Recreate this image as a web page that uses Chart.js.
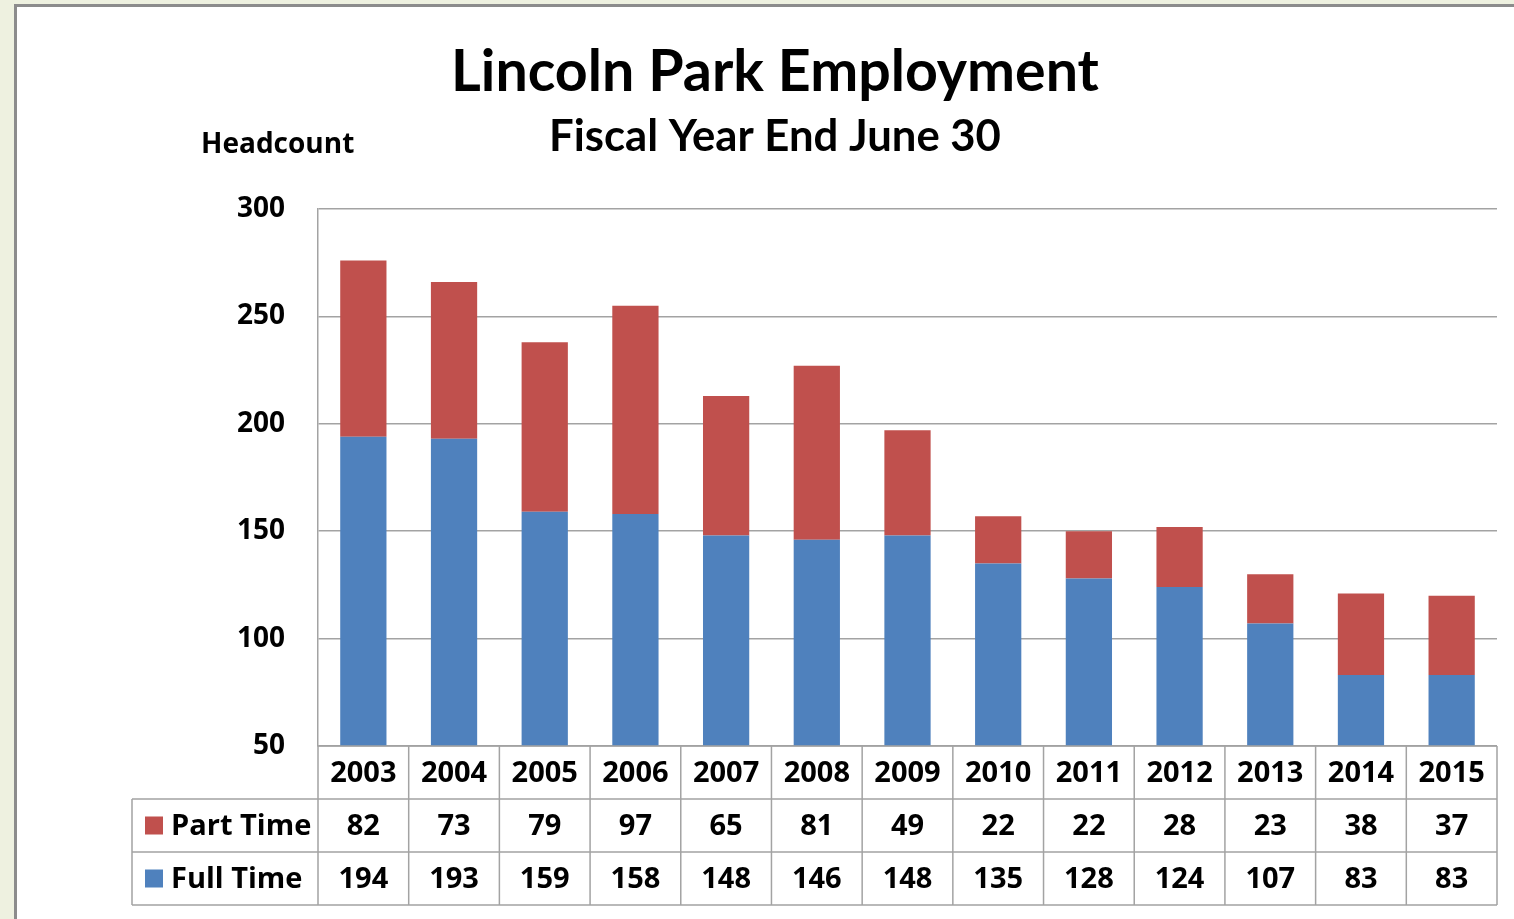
<!DOCTYPE html>
<html><head><meta charset="utf-8">
<script src="https://cdn.jsdelivr.net/npm/chart.js@4.4.1/dist/chart.umd.min.js"></script>
<style>
html,body{margin:0;padding:0;background:#eef1e0;width:1514px;height:919px;overflow:hidden}
#frame{position:absolute;left:14px;top:4px;width:1530px;height:940px;background:#fff;border-left:3px solid #8c8c8c;border-top:3px solid #8c8c8c}
canvas{position:absolute;left:0;top:0}
</style></head><body>
<div id="frame"></div>
<canvas id="c" width="1514" height="919"></canvas>
<script>
const years = ['2003','2004','2005','2006','2007','2008','2009','2010','2011','2012','2013','2014','2015'];
const partTime = [82,73,79,97,65,81,49,22,22,28,23,38,37];
const fullTime = [194,193,159,158,148,146,148,135,128,124,107,83,83];
const seriesNames = ['Part Time','Full Time'];
const yMin = 50, yMax = 300, yStep = 50;
const titleText = 'Lincoln Park Employment';
const subtitleText = 'Fiscal Year End June 30';
const yAxisTitle = 'Headcount';

const RED = '#c0504d', BLUE = '#4f81bd', LINE = '#a3a3a3';
const TF = '"Open Sans", "DejaVu Sans", sans-serif';
const HF = 'Lato, "Open Sans", sans-serif';

function fitSize(ctx, text, family, target){
  ctx.font = '700 100px ' + family;
  return 100 * target / ctx.measureText(text).width;
}

const overlay = {
  id: 'overlay',
  afterDraw(chart){
    const ctx = chart.ctx, xs = chart.scales.x, ca = chart.chartArea;
    const n = years.length, cw = (ca.right - ca.left) / n, rowH = 53, top = ca.bottom, tLeft = 132;
    ctx.save();
    // titles
    ctx.fillStyle = '#000';
    ctx.textAlign = 'center'; ctx.textBaseline = 'alphabetic';
    let s = fitSize(ctx, titleText, HF, 648);
    ctx.font = '700 ' + s + 'px ' + HF;
    ctx.fillText(titleText, 775, 91);
    s = fitSize(ctx, subtitleText, HF, 452);
    ctx.font = '700 ' + s + 'px ' + HF;
    ctx.fillText(subtitleText, 775, 151);
    ctx.textAlign = 'left';
    ctx.font = '700 28px ' + TF;
    ctx.fillText(yAxisTitle, 201, 153);
    // table lines
    ctx.strokeStyle = LINE; ctx.lineWidth = 1.5;
    ctx.beginPath();
    ctx.moveTo(ca.left, top); ctx.lineTo(ca.right, top);
    for (let r = 1; r <= 3; r++){ ctx.moveTo(tLeft, top + r*rowH); ctx.lineTo(ca.right, top + r*rowH); }
    for (let i = 0; i <= n; i++){ const x = ca.left + i*cw; ctx.moveTo(x, top); ctx.lineTo(x, top + 3*rowH); }
    ctx.moveTo(tLeft, top + rowH); ctx.lineTo(tLeft, top + 3*rowH);
    ctx.stroke();
    // table text
    ctx.font = '700 29px ' + TF;
    ctx.textAlign = 'center'; ctx.textBaseline = 'middle';
    const rows = [partTime, fullTime];
    years.forEach((y, i) => {
      const cx = xs.getPixelForValue(i);
      ctx.fillText(y, cx, top + rowH/2 + 1);
      rows.forEach((arr, r) => ctx.fillText(String(arr[i]), cx, top + (r+1)*rowH + rowH/2 + 1));
    });
    ctx.textAlign = 'left';
    [RED, BLUE].forEach((c, r) => {
      const cy = top + (r+1)*rowH + rowH/2;
      ctx.fillStyle = c; ctx.fillRect(145, cy - 9, 18, 18);
      ctx.fillStyle = '#000'; ctx.fillText(seriesNames[r], 171, cy + 1);
    });
    ctx.restore();
  }
};

new Chart(document.getElementById('c'), {
  type: 'bar',
  data: {
    labels: years,
    datasets: [
      { label: seriesNames[1], data: fullTime, backgroundColor: BLUE, borderWidth: 0 },
      { label: seriesNames[0], data: partTime, backgroundColor: RED, borderWidth: 0 }
    ]
  },
  options: {
    responsive: false, animation: false, devicePixelRatio: 1,
    layout: { padding: { left: 218, top: 209, right: 17, bottom: 173 } },
    datasets: { bar: { barPercentage: 0.51, categoryPercentage: 1.0 } },
    plugins: { legend: { display: false }, tooltip: { enabled: false }, title: { display: false } },
    scales: {
      x: { display: false, stacked: true },
      y: {
        stacked: true, min: yMin, max: yMax,
        afterFit: s => { s.width = 100; },
        ticks: { stepSize: yStep, color: '#000', padding: 33, font: { family: TF, weight: '700', size: 28 } },
        grid: { color: LINE, lineWidth: 1.5, drawTicks: false },
        border: { color: LINE, width: 1.5 }
      }
    }
  },
  plugins: [overlay]
});
</script>
</body></html>
